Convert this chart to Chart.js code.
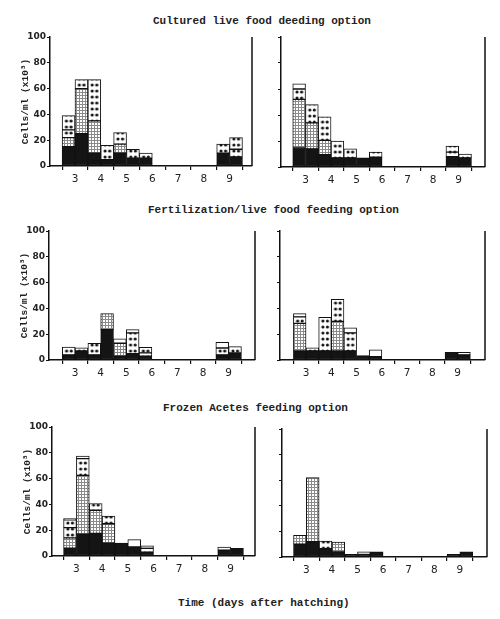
<!DOCTYPE html>
<html><head><meta charset="utf-8">
<script src="https://cdn.jsdelivr.net/npm/chart.js@4.4.1/dist/chart.umd.min.js"></script>
<style>
html,body{margin:0;padding:0;background:#fff;width:500px;height:619px;overflow:hidden;position:relative}
.t{position:absolute;font-family:"Liberation Mono",monospace;font-weight:bold;font-size:11px;color:#222;white-space:nowrap;line-height:12px}
canvas{position:absolute}
</style></head><body>
<div class="t" style="left:153px;top:15px">Cultured live food deeding option</div>
<div class="t" style="left:148px;top:204px">Fertilization/live food feeding option</div>
<div class="t" style="left:163px;top:402px">Frozen Acetes feeding option</div>
<div class="t" style="left:178px;top:597px">Time (days after hatching)</div>
<canvas id="c1" width="248" height="163" style="left:10px;top:29px"></canvas>
<canvas id="c2" width="250" height="164" style="left:241px;top:29px"></canvas>
<canvas id="c3" width="252" height="163" style="left:9px;top:223px"></canvas>
<canvas id="c4" width="251" height="163" style="left:240px;top:223px"></canvas>
<canvas id="c5" width="249" height="163" style="left:12px;top:419px"></canvas>
<canvas id="c6" width="251" height="162" style="left:242px;top:421px"></canvas>
<script>
// sampling times (days after hatching): two samplings per day, days 3..9
const samplingDays = [2.75,3.25,3.75,4.25,4.75,5.25,5.75,6.25,6.75,7.25,7.75,8.25,8.75,9.25];
const dayTicks = [2.5,3,3.5,4,4.5,5,5.5,6,6.5,7,7.5,8,8.5,9,9.5];
const dayLabels = ['3','4','5','6','7','8','9'];
const yTicks = [0,20,40,60,80,100];
const yTitle = 'Cells/ml (x10\u00B3)';

// Cultured live food - left
const cultL_black = [15,25,10,5,10,6,6,0,0,0,0,0,10,7];
const cultL_grid  = [7,35,25,0,7,0,0,0,0,0,0,0,0,0];
const cultL_dotsA = [6,7,32,11,9,7,4,0,0,0,0,0,7,6];
const cultL_dotsB = [11,0,0,0,0,0,0,0,0,0,0,0,0,9];
const cultL_white = [0,0,0,0,0,0,0,0,0,0,0,0,0,0];
// Cultured live food - right
const cultR_black = [15,14,9.5,7,7,7,7.5,0,0,0,0,0,8,7];
const cultR_grid  = [37,20,11,0,0,0,0,0,0,0,0,0,0,0];
const cultR_dotsA = [8,14,18,13,7,0,4,0,0,0,0,0,3.5,3];
const cultR_dotsB = [0,0,0,0,0,0,0,0,0,0,0,0,4.5,0];
const cultR_white = [4,0,0,0,0,0,0,0,0,0,0,0,0,0];
// Fertilization - left
const fertL_black = [4,7,4,23.5,3,5,3,0,0,0,0,0,4,5.4];
const fertL_grid  = [0,0,0,12.5,10,0,0,0,0,0,0,0,0,0];
const fertL_dotsA = [6,2.5,9,0,0,16,2.5,0,0,0,0,0,5.3,5];
const fertL_dotsB = [0,0,0,0,0,0,4.3,0,0,0,0,0,0,0];
const fertL_white = [0,0,0,0,3.5,2.5,0,0,0,0,0,0,4.4,0];
// Fertilization - right
const fertR_black = [7,7,7,7,7,3.4,2.6,0,0,0,0,0,6,4];
const fertR_grid  = [21.4,0,0,23,0,0,0,0,0,0,0,0,0,0];
const fertR_dotsA = [5,2.5,26,17,14,0,0,0,0,0,0,0,0,0];
const fertR_dotsB = [0,0,0,0,0,0,0,0,0,0,0,0,0,0];
const fertR_white = [2.5,0,0,0,4,0,5.2,0,0,0,0,0,0,2];
// Frozen Acetes - left
const froL_black = [6,17,17.5,10,10,7,3,0,0,0,0,0,4.5,6];
const froL_grid  = [8,45.5,18,15,0,0,0,0,0,0,0,0,0,0];
const froL_dotsA = [8,13,5.2,6,0,0,3,0,0,0,0,0,0,0];
const froL_dotsB = [6,0,0,0,0,0,0,0,0,0,0,0,0,0];
const froL_white = [1,2,0,0,0,5.7,1.8,0,0,0,0,0,2.5,0];
// Frozen Acetes - right
const froR_black = [10,12,6.5,4,2,2,4,0,0,0,0,0,2,4];
const froR_grid  = [7,50,0,7.7,0,0,0,0,0,0,0,0,0,0];
const froR_dotsA = [0,0,6,0,0,0,0,0,0,0,0,0,0,0];
const froR_dotsB = [0,0,0,0,0,0,0,0,0,0,0,0,0,0];
const froR_white = [0,0,0,0,0,2,0,0,0,0,0,0,0,0];

function gridPattern(){
  const c=document.createElement('canvas'); c.width=3; c.height=3;
  const g=c.getContext('2d');
  g.fillStyle='#fff'; g.fillRect(0,0,3,3);
  g.fillStyle='#8a8a8a'; g.fillRect(0,0,3,1); g.fillRect(0,0,1,3);
  return g.createPattern(c,'repeat');
}
const GRID = gridPattern();
function dotsPattern(chart){
  const xs=chart.scales.x, ys=chart.scales.y;
  const p0=xs.getPixelForValue(samplingDays[0]), p1=xs.getPixelForValue(samplingDays[1]);
  const w=p1-p0, x0=p0-w/2, y0=ys.getPixelForValue(0);
  const key=x0+'_'+w+'_'+y0;
  if(chart.$dots && chart.$dots.key===key) return chart.$dots.p;
  const c=document.createElement('canvas'); c.width=12; c.height=6;
  const g=c.getContext('2d');
  g.fillStyle='#fff'; g.fillRect(0,0,12,6);
  g.fillStyle='#111';
  g.beginPath(); g.arc(4,3,1.5,0,Math.PI*2); g.fill();
  g.beginPath(); g.arc(8.3,3,1.5,0,Math.PI*2); g.fill();
  const p=chart.ctx.createPattern(c,'repeat');
  p.setTransform(new DOMMatrix([w/12,0,0,1,x0,y0]));
  chart.$dots={key,p};
  return p;
}
const rightBorder={id:'rightBorder',afterDraw(chart){
  const {ctx,chartArea:a}=chart;
  ctx.save(); ctx.strokeStyle='#111'; ctx.lineWidth=1.5;
  ctx.beginPath(); ctx.moveTo(a.right,a.top); ctx.lineTo(a.right,a.bottom); ctx.stroke();
  ctx.restore();
}};

function ds(arr, fill){
  return {data: samplingDays.map((d,i)=>({x:d, y: arr[i] ? arr[i] : null})),
    backgroundColor: fill, borderColor:'#111', borderWidth:1, borderSkipped:false,
    barPercentage:1, categoryPercentage:1};
}
function panel(id, s, xmin, xmax, showY){
  new Chart(document.getElementById(id), {
    type:'bar',
    data:{datasets:[
      ds(s[0], '#141414'),
      ds(s[1], GRID),
      ds(s[2], ctx=>dotsPattern(ctx.chart)),
      ds(s[3], ctx=>dotsPattern(ctx.chart)),
      ds(s[4], '#ffffff')
    ]},
    options:{
      responsive:false, animation:false, events:[],
      layout:{padding:{left:0,top:8,right:6,bottom:0}},
      plugins:{legend:{display:false},tooltip:{enabled:false}},
      scales:{
        x:{type:'linear', stacked:true, offset:false, min:xmin, max:xmax,
          afterBuildTicks:sc=>{sc.ticks=dayTicks.map(v=>({value:v}));},
          afterFit:sc=>{sc.height=26;},
          ticks:{autoSkip:false, maxRotation:0, padding:3, color:'#222',
            font:{family:'DejaVu Sans', size:10.5},
            callback:v=>dayLabels.includes(String(v))?String(v):''},
          grid:{drawOnChartArea:false, drawTicks:true, tickLength:4, offset:false,
            color:c=>(c.tick && Number.isInteger(c.tick.value))?'rgba(0,0,0,0)':'#111', lineWidth:1.2},
          border:{display:true, color:'#111', width:1.5}
        },
        y:{stacked:true, min:0, max:100,
          afterBuildTicks:sc=>{sc.ticks=yTicks.map(v=>({value:v}));},
          afterFit:sc=>{sc.width=40;},
          ticks:{display:showY, padding:1, color:'#222', font:{family:'DejaVu Sans', size:9, weight:'bold'}},
          grid:{drawOnChartArea:false, drawTicks:true, tickLength:3, color:'#111', lineWidth:1},
          border:{display:true, color:'#111', width:1.5},
          title:{display:showY, text:yTitle, color:'#222', padding:{top:10,bottom:0},
            font:{family:'Liberation Mono', size:9.5, weight:'bold'}}
        }
      }
    },
    plugins:[rightBorder]
  });
}
panel('c1',[cultL_black,cultL_grid,cultL_dotsA,cultL_dotsB,cultL_white],2.03,9.87,true);
panel('c2',[cultR_black,cultR_grid,cultR_dotsA,cultR_dotsB,cultR_white],2.04,10.03,false);
panel('c3',[fertL_black,fertL_grid,fertL_dotsA,fertL_dotsB,fertL_white],1.98,10.03,true);
panel('c4',[fertR_black,fertR_grid,fertR_dotsA,fertR_dotsB,fertR_white],1.97,10.08,false);
panel('c5',[froL_black,froL_grid,froL_dotsA,froL_dotsB,froL_white],2.05,9.95,true);
panel('c6',[froR_black,froR_grid,froR_dotsA,froR_dotsB,froR_white],2.05,10.06,false);
</script>
</body></html>
